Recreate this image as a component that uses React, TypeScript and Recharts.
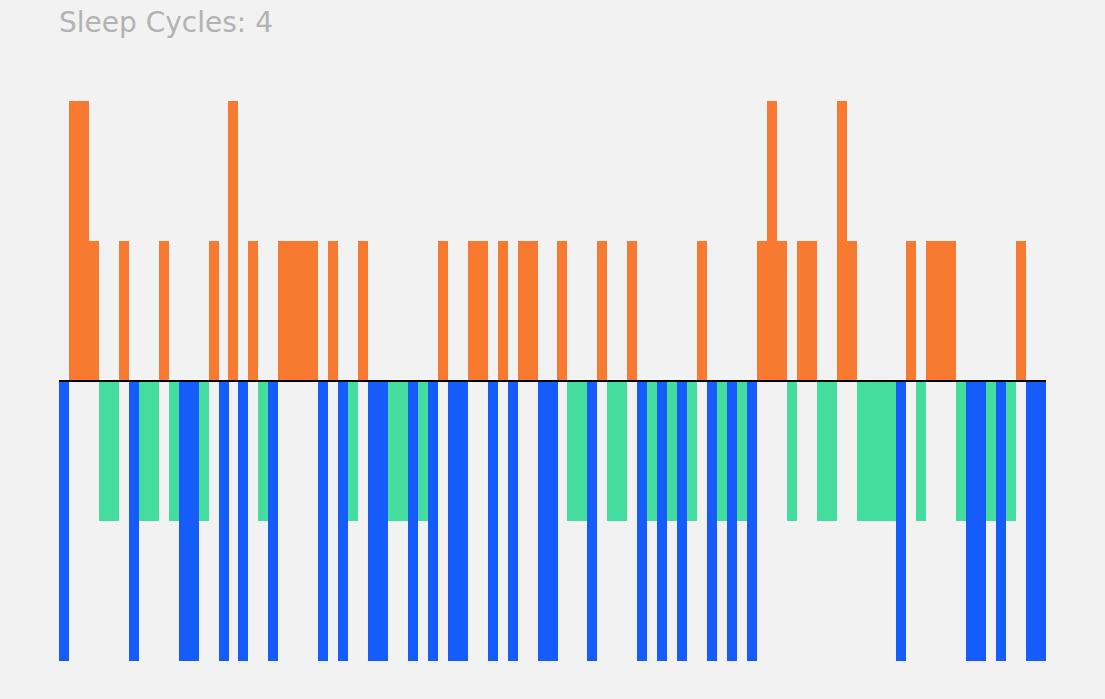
import React from "react";
import { BarChart, Bar, XAxis, YAxis, Cell, ReferenceLine } from "recharts";

// sleep stage per epoch: 2 = awake, 1 = REM, -1 = light, -2 = deep
const stages = [
  -2, 2, 2, 1, -1, -1, 1, -2, -1, -1,
  1, -1, -2, -2, -1, 1, -2, 2, -2, 1,
  -1, -2, 1, 1, 1, 1, -2, 1, -2, -1,
  1, -2, -2, -1, -1, -2, -1, -2, 1, -2,
  -2, 1, 1, -2, 1, -2, 1, 1, -2, -2,
  1, -1, -1, -2, 1, -1, -1, 1, -2, -1,
  -2, -1, -2, -1, 1, -2, -1, -2, -1, -2,
  1, 2, 1, -1, 1, 1, -1, -1, 2, 1,
  -1, -1, -1, -1, -2, 1, -1, 1, 1, 1,
  -1, -2, -2, -1, -2, -1, 1, -2, -2,
];
const epochs = stages.map((_, i) => i + 1);
const cycles = 4;

const colorFor = (v: number) => (v > 0 ? "#f77a30" : v === -1 ? "#44dd9d" : "#155cfb");

const data = epochs.map((e, i) => ({ epoch: e, stage: stages[i] }));

export default function App() {
  return (
    <div style={{ position: "fixed", top: 0, left: 0, width: 1105, height: 699, background: "#f2f2f2" }}>
      <div
        style={{
          position: "absolute",
          left: 59,
          top: 9,
          fontFamily: "DejaVu Sans",
          fontSize: 28,
          lineHeight: "28px",
          color: "#b3b3b3",
        }}
      >
        Sleep Cycles: {cycles}
      </div>
      <BarChart
        width={1105}
        height={699}
        data={data}
        margin={{ top: 101, right: 59, bottom: 38, left: 59 }}
        barCategoryGap={0}
        barGap={0}
      >
        <XAxis dataKey="epoch" hide />
        <YAxis domain={[-2, 2]} hide />
        <Bar dataKey="stage" isAnimationActive={false} shapeRendering="crispEdges">
          {data.map((d) => (
            <Cell key={d.epoch} fill={colorFor(d.stage)} />
          ))}
        </Bar>
        <ReferenceLine y={0} stroke="#000" strokeWidth={2} />
      </BarChart>
    </div>
  );
}
